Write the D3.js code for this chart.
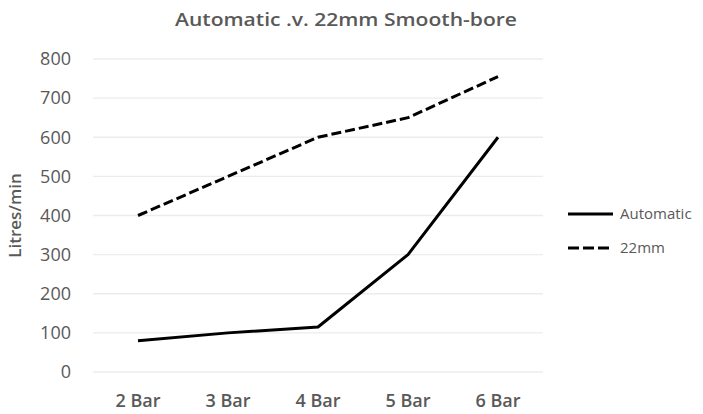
<!DOCTYPE html>
<html>
<head>
<meta charset="utf-8">
<script src="https://cdn.jsdelivr.net/npm/d3@7"></script>
<style>
  html, body { margin: 0; padding: 0; background: #fff; }
  svg { display: block; font-family: "Open Sans", "Liberation Sans", sans-serif; }
</style>
</head>
<body>
<svg id="chart" width="703" height="414"></svg>
<script>
const categories = ["2 Bar", "3 Bar", "4 Bar", "5 Bar", "6 Bar"];
const automatic = [80, 100, 115, 300, 600];
const smoothBore22 = [400, 500, 600, 650, 755];
const yTicks = [0, 100, 200, 300, 400, 500, 600, 700, 800];
const seriesNames = ["Automatic", "22mm"];

const svg = d3.select("#chart");
const plot = { left: 93, right: 543, top: 59, bottom: 372 };
const textColor = "#595959";
const dash = "10,4";

const x = d3.scaleBand().domain(categories).range([plot.left, plot.right]);
const y = d3.scaleLinear().domain([0, 800]).range([plot.bottom, plot.top]);

// Horizontal gridlines
svg.append("g")
  .selectAll("line")
  .data(yTicks)
  .join("line")
  .attr("x1", plot.left).attr("x2", plot.right)
  .attr("y1", d => y(d)).attr("y2", d => y(d))
  .attr("stroke", "#ececec").attr("stroke-width", 1.3);

// Y axis labels
const yAxis = svg.append("g")
  .attr("transform", `translate(${plot.left - 22},0)`)
  .call(d3.axisLeft(y).tickValues(yTicks).tickSize(0).tickPadding(0));
yAxis.select(".domain").remove();
yAxis.selectAll("text")
  .attr("fill", textColor).attr("font-size", 18)
  .attr("font-family", "'Open Sans', sans-serif");

// X axis labels
const xAxis = svg.append("g")
  .attr("transform", `translate(0,${plot.bottom + 16})`)
  .call(d3.axisBottom(x).tickSize(0).tickPadding(6));
xAxis.select(".domain").remove();
xAxis.selectAll("text")
  .attr("fill", textColor).attr("font-size", 18).attr("font-weight", 600)
  .attr("font-family", "'Open Sans', sans-serif");

// Series lines
const line = d3.line()
  .x((d, i) => x(categories[i]) + x.bandwidth() / 2)
  .y(d => y(d));

svg.append("path")
  .datum(smoothBore22)
  .attr("d", line)
  .attr("fill", "none").attr("stroke", "#000")
  .attr("stroke-width", 3).attr("stroke-dasharray", dash);

svg.append("path")
  .datum(automatic)
  .attr("d", line)
  .attr("fill", "none").attr("stroke", "#000")
  .attr("stroke-width", 3).attr("stroke-linejoin", "round");

// Title
svg.append("text")
  .attr("x", 346).attr("y", 26)
  .attr("text-anchor", "middle")
  .attr("fill", textColor).attr("font-size", 18).attr("font-weight", 600)
  .attr("textLength", 342).attr("lengthAdjust", "spacingAndGlyphs")
  .text("Automatic .v. 22mm Smooth-bore");

// Y axis title
svg.append("text")
  .attr("transform", `translate(21,${(plot.top + plot.bottom) / 2}) rotate(-90)`)
  .attr("text-anchor", "middle")
  .attr("fill", textColor).attr("font-size", 17).attr("font-weight", 600)
  .text("Litres/min");

// Legend
const legend = svg.append("g").attr("transform", "translate(568,0)");
const legendY = [214, 248];
seriesNames.forEach((name, i) => {
  legend.append("line")
    .attr("x1", 0).attr("x2", 45)
    .attr("y1", legendY[i]).attr("y2", legendY[i])
    .attr("stroke", "#000").attr("stroke-width", 3)
    .attr("stroke-dasharray", i === 1 ? "11,4" : null);
  legend.append("text")
    .attr("x", 52).attr("y", legendY[i])
    .attr("dy", "0.35em")
    .attr("fill", textColor).attr("font-size", 15)
    .text(name);
});
</script>
</body>
</html>
